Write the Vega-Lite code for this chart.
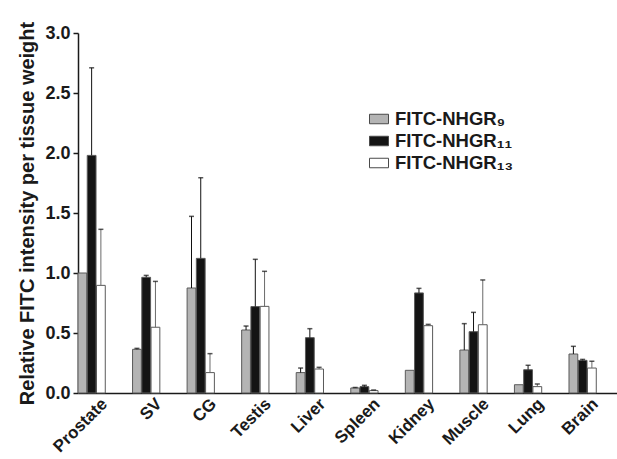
{
  "$schema": "https://vega.github.io/schema/vega-lite/v6.json",
  "width": 539,
  "height": 360,
  "autosize": "none",
  "padding": {"left": 78, "top": 33, "right": 0, "bottom": 66},
  "background": "white",
  "config": {
    "view": {"stroke": null},
    "font": "Liberation Sans",
    "axis": {"labelFont": "Liberation Sans", "titleFont": "Liberation Sans", "labelColor": "#1a1a1a", "titleColor": "#1a1a1a", "domainColor": "#1a1a1a", "tickColor": "#1a1a1a", "grid": false}
  },
  "data": {
    "values": [
      {"tissue": "Prostate", "series": "FITC-NHGR₉", "value": 1.0, "err": null},
      {"tissue": "Prostate", "series": "FITC-NHGR₁₁", "value": 1.98, "err": 2.71},
      {"tissue": "Prostate", "series": "FITC-NHGR₁₃", "value": 0.897, "err": 1.364},
      {"tissue": "SV", "series": "FITC-NHGR₉", "value": 0.364, "err": 0.372},
      {"tissue": "SV", "series": "FITC-NHGR₁₁", "value": 0.964, "err": 0.98},
      {"tissue": "SV", "series": "FITC-NHGR₁₃", "value": 0.548, "err": 0.93},
      {"tissue": "CG", "series": "FITC-NHGR₉", "value": 0.875, "err": 1.472},
      {"tissue": "CG", "series": "FITC-NHGR₁₁", "value": 1.122, "err": 1.794},
      {"tissue": "CG", "series": "FITC-NHGR₁₃", "value": 0.17, "err": 0.328},
      {"tissue": "Testis", "series": "FITC-NHGR₉", "value": 0.525, "err": 0.558},
      {"tissue": "Testis", "series": "FITC-NHGR₁₁", "value": 0.72, "err": 1.114},
      {"tissue": "Testis", "series": "FITC-NHGR₁₃", "value": 0.722, "err": 1.014},
      {"tissue": "Liver", "series": "FITC-NHGR₉", "value": 0.17, "err": 0.208},
      {"tissue": "Liver", "series": "FITC-NHGR₁₁", "value": 0.461, "err": 0.536},
      {"tissue": "Liver", "series": "FITC-NHGR₁₃", "value": 0.2, "err": 0.214},
      {"tissue": "Spleen", "series": "FITC-NHGR₉", "value": 0.042, "err": 0.046},
      {"tissue": "Spleen", "series": "FITC-NHGR₁₁", "value": 0.053, "err": 0.064},
      {"tissue": "Spleen", "series": "FITC-NHGR₁₃", "value": 0.02, "err": 0.025},
      {"tissue": "Kidney", "series": "FITC-NHGR₉", "value": 0.189, "err": null},
      {"tissue": "Kidney", "series": "FITC-NHGR₁₁", "value": 0.834, "err": 0.872},
      {"tissue": "Kidney", "series": "FITC-NHGR₁₃", "value": 0.561, "err": 0.572},
      {"tissue": "Muscle", "series": "FITC-NHGR₉", "value": 0.358, "err": 0.578},
      {"tissue": "Muscle", "series": "FITC-NHGR₁₁", "value": 0.511, "err": 0.672},
      {"tissue": "Muscle", "series": "FITC-NHGR₁₃", "value": 0.569, "err": 0.942},
      {"tissue": "Lung", "series": "FITC-NHGR₉", "value": 0.069, "err": null},
      {"tissue": "Lung", "series": "FITC-NHGR₁₁", "value": 0.194, "err": 0.231},
      {"tissue": "Lung", "series": "FITC-NHGR₁₃", "value": 0.053, "err": 0.075},
      {"tissue": "Brain", "series": "FITC-NHGR₉", "value": 0.325, "err": 0.389},
      {"tissue": "Brain", "series": "FITC-NHGR₁₁", "value": 0.272, "err": 0.28},
      {"tissue": "Brain", "series": "FITC-NHGR₁₃", "value": 0.208, "err": 0.264}
    ]
  },
  "encoding": {
    "x": {
      "field": "tissue", "type": "nominal", "sort": null,
      "scale": {"paddingInner": 0.5, "paddingOuter": 0.19, "align": 0},
      "axis": {"title": null, "labelAngle": -45, "labelAlign": "right", "labelBaseline": "middle", "labelFontSize": 17, "labelFontWeight": "bold", "ticks": false, "domainWidth": 1.5, "labelPadding": 8, "labelOffset": 13}
    },
    "xOffset": {"field": "series", "type": "nominal", "sort": ["FITC-NHGR₉", "FITC-NHGR₁₁", "FITC-NHGR₁₃"], "scale": {"paddingInner": 0.05}}
  },
  "layer": [
    {
      "mark": {"type": "bar", "stroke": "#5a5a5a", "strokeWidth": 1},
      "encoding": {
        "y": {
          "field": "value", "type": "quantitative",
          "scale": {"domain": [0, 3], "nice": false},
          "axis": {"title": "Relative FITC intensity per tissue weight", "titleFontSize": 20, "titleFontWeight": "bold", "titlePadding": 7, "titleLimit": 1000, "values": [0, 0.5, 1, 1.5, 2, 2.5, 3], "format": ".1f", "labelFontSize": 18, "labelFontWeight": "bold", "tickSize": 5, "domainWidth": 1.5, "tickWidth": 1.5, "labelPadding": 3}
        },
        "fill": {
          "field": "series", "type": "nominal",
          "sort": ["FITC-NHGR₉", "FITC-NHGR₁₁", "FITC-NHGR₁₃"],
          "scale": {"domain": ["FITC-NHGR₉", "FITC-NHGR₁₁", "FITC-NHGR₁₃"], "range": ["#b4b4b4", "#141414", "#ffffff"]},
          "legend": {
            "title": null, "orient": "none", "legendX": 291, "legendY": 76,
            "symbolType": "M-1,-0.5H1V0.5H-1Z", "symbolSize": 361, "symbolStrokeColor": "#4a4a4a", "symbolStrokeWidth": 1,
            "labelFont": "Liberation Sans", "labelFontSize": 18.5, "labelFontWeight": "bold", "labelColor": "#1a1a1a",
            "labelOffset": 6, "rowPadding": 2, "padding": 0
          }
        }
      }
    },
    {
      "transform": [{"filter": "datum.err != null"}],
      "mark": {"type": "rule", "strokeWidth": 1},
      "encoding": {
        "y": {"field": "value", "type": "quantitative"},
        "y2": {"field": "err"},
        "color": {"condition": {"test": "datum.series == 'FITC-NHGR₁₃'", "value": "#6a6a6a"}, "value": "#111111"}
      }
    },
    {
      "transform": [{"filter": "datum.err != null"}],
      "mark": {"type": "tick", "size": 5, "thickness": 1.5, "color": "#111111"},
      "encoding": {
        "y": {"field": "err", "type": "quantitative"}
      }
    }
  ]
}
